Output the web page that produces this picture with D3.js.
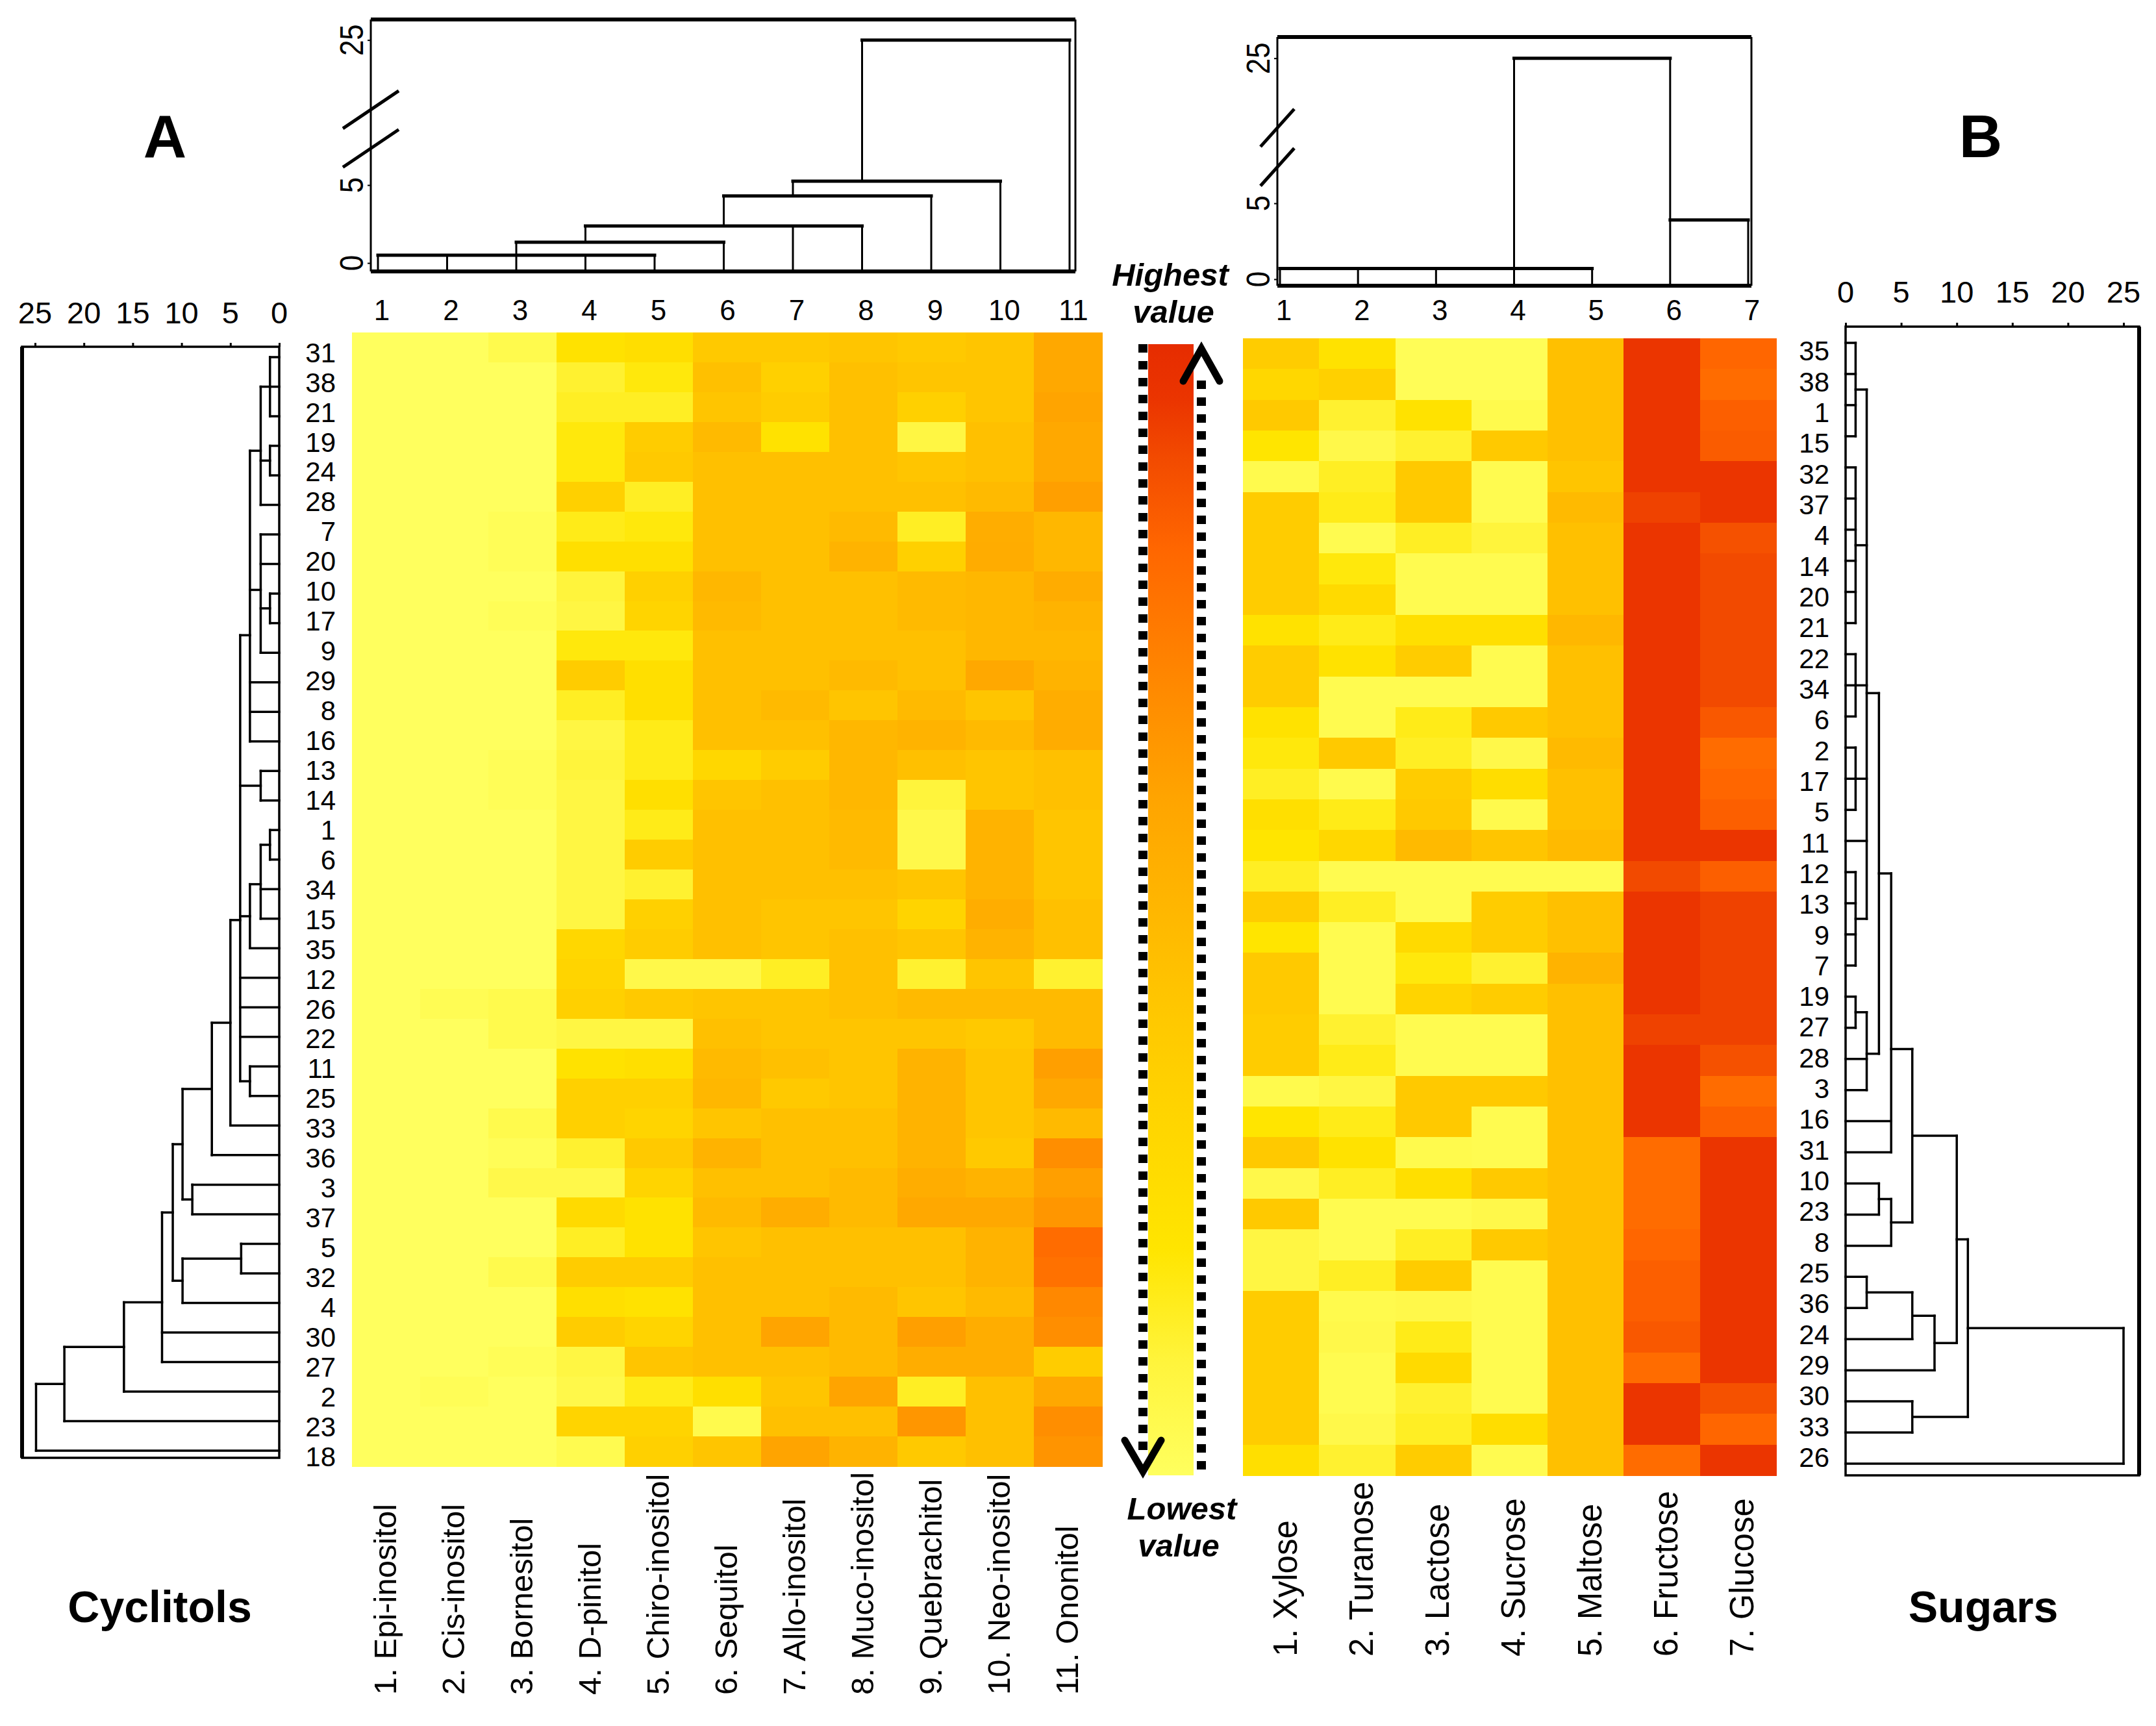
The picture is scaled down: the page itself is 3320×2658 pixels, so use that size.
<!DOCTYPE html>
<html><head><meta charset="utf-8">
<script src="https://cdn.jsdelivr.net/npm/d3@7/dist/d3.min.js"></script>
<style>
body{margin:0;background:#fff}
svg{display:block}
text{font-family:"Liberation Sans",Arial,Helvetica,sans-serif;fill:#000}
</style>
</head><body>
<svg id="chart" width="3320" height="2658"></svg>
<script>
// ---------------- DATA ----------------
const cycColumns = ["1. Epi-inositol","2. Cis-inositol","3. Bornesitol","4. D-pinitol","5. Chiro-inositol","6. Sequitol","7. Allo-inositol","8. Muco-inositol","9. Quebrachitol","10. Neo-inositol","11. Ononitol"];
const cycColTicks = ["1","2","3","4","5","6","7","8","9","10","11"];
const cycRows = [31,38,21,19,24,28,7,20,10,17,9,29,8,16,13,14,1,6,34,15,35,12,26,22,11,25,33,36,3,37,5,32,4,30,27,2,23,18];
// relative level 0 (lowest) .. 100 (highest), one array per sample row
const cycValues = [
 [0,0,5,22,25,40,40,42,40,42,58],
 [0,0,0,12,18,45,35,45,42,42,58],
 [0,0,0,14,14,42,38,45,35,42,60],
 [0,0,0,18,38,48,22,45,8,45,58],
 [0,0,0,18,40,45,45,45,42,45,58],
 [0,0,0,35,14,45,45,45,45,48,62],
 [0,0,2,16,18,45,45,48,14,55,50],
 [0,0,2,24,24,45,45,52,35,56,50],
 [0,0,0,10,35,50,45,45,48,50,56],
 [0,0,2,8,32,48,45,45,48,50,52],
 [0,0,0,18,18,45,45,45,45,50,50],
 [0,0,0,38,24,45,45,48,45,58,52],
 [0,0,0,14,24,45,48,42,48,42,55],
 [0,0,0,8,16,45,45,50,52,48,56],
 [0,0,2,10,16,30,38,50,45,42,45],
 [0,0,2,8,24,42,45,50,10,42,45],
 [0,0,0,8,16,45,45,48,6,52,42],
 [0,0,0,8,38,45,45,48,6,52,42],
 [0,0,0,8,12,45,45,45,42,52,42],
 [0,0,0,8,35,45,42,42,32,55,45],
 [0,0,0,30,38,45,42,45,42,52,45],
 [0,0,0,32,6,6,14,45,12,42,12],
 [0,3,5,35,40,42,42,45,48,48,48],
 [0,0,5,8,8,45,42,42,42,40,48],
 [0,0,0,22,24,48,45,42,52,42,62],
 [0,0,0,35,35,50,40,42,52,42,58],
 [0,0,5,35,32,42,45,45,52,42,48],
 [0,0,2,12,40,52,45,45,52,40,68],
 [0,0,6,6,32,45,45,48,55,52,62],
 [0,0,0,28,22,48,55,48,58,58,65],
 [0,0,0,14,22,42,45,45,45,52,80],
 [0,0,5,38,38,45,45,45,45,52,78],
 [0,0,0,24,22,45,45,48,42,48,70],
 [0,0,0,38,32,45,60,48,62,55,68],
 [0,0,2,8,42,45,45,48,55,55,38],
 [0,2,0,6,16,24,42,60,14,45,58],
 [0,0,0,32,32,5,45,45,65,45,68],
 [0,0,0,4,35,42,60,52,40,45,66]
];

const sugColumns = ["1. Xylose","2. Turanose","3. Lactose","4. Sucrose","5. Maltose","6. Fructose","7. Glucose"];
const sugColTicks = ["1","2","3","4","5","6","7"];
const sugRows = [35,38,1,15,32,37,4,14,20,21,22,34,6,2,17,5,11,12,13,9,7,19,27,28,3,16,31,10,23,8,25,36,24,29,30,33,26];
const sugValues = [
 [38,22,2,2,45,95,82],
 [30,35,2,2,45,95,80],
 [40,12,22,5,45,95,84],
 [20,6,12,40,45,95,85],
 [5,14,40,4,42,95,95],
 [38,16,40,4,48,92,95],
 [38,4,14,10,45,95,88],
 [38,18,4,4,45,95,90],
 [38,28,4,4,45,95,90],
 [22,16,24,24,50,95,90],
 [38,22,38,4,45,95,90],
 [38,4,4,4,45,95,90],
 [22,4,16,40,45,95,86],
 [18,40,14,6,48,95,80],
 [14,5,38,26,45,95,82],
 [24,16,40,5,45,95,84],
 [20,30,48,42,48,95,95],
 [14,4,4,4,4,90,84],
 [38,14,4,38,45,95,92],
 [20,4,28,38,45,95,92],
 [40,4,18,12,52,95,92],
 [40,4,32,38,45,95,92],
 [38,12,4,4,45,92,92],
 [38,16,4,4,45,95,88],
 [5,8,40,40,45,95,80],
 [20,16,40,4,45,95,84],
 [40,22,5,4,45,80,95],
 [6,14,24,40,45,80,95],
 [40,4,4,6,45,80,95],
 [8,4,14,40,45,82,95],
 [8,14,38,4,45,84,95],
 [38,5,6,4,45,84,95],
 [38,6,16,4,45,86,95],
 [38,4,28,4,45,80,95],
 [38,4,12,4,45,95,88],
 [38,6,14,26,45,95,82],
 [24,12,38,4,45,80,95]
];

// dendrograms: [height, ...children]; a head [height, anchorLeaf] fixes where the cluster is drawn
const cycColTree = [25, [5.25, [4.3, [2.375, [1.33, [0.5, 1,2,3,4,5], 6], 7, 8], 9], 10], 11];
const sugColTree = [25, [[0.7, 4], 1,2,3,4,5], [3.9, 6, 7]];
const cycRowTree =
 [24.9, [22.0, [15.9, [12.0, [10.9, [9.9, [6.9, [5.0,
   [4.0,
     [3.0, [1.9, [0.95, 31, 38, 21], [0.95, 19, 24], 28], [1.9, 7, 20, [0.95, 10, 17], 9], 29, 8, 16],
     [1.9, 13, 14],
     [3.0, [1.9, [0.95, 1, 6], 34, 15], 35],
     12, 26, 22,
     [3.0, 11, 25]],
   33], 36], [8.9, 3, 37]], [9.9, [3.9, 5, 32], 4]], 30, 27], 2], 23], 18];
const sugRowTree =
 [25, [11.0,
   [10.0,
     [6.0,
       [4.1, [3.0,
          [1.9, [0.9,35,38,1,15], [0.9,32,37,4,14,20,21], [0.9,22,34,6], [0.9,2,17,5], 11, [0.9,12,13,9,7]],
          [1.9, [0.9,19,27], 28, 3]], 16, 31],
       [4.1, [3.0, 10, 23], 8]],
     [8.0, [6.0, [1.9, 25, 36], 24], 29]],
   [6.0, 30, 33]], 26];

const distanceTicks = [0,5,10,15,20,25];
const brokenTicks = [0,5,25];
const legendTop = ["Highest","value"];
const legendBottom = ["Lowest","value"];
const panelLetters = ["A","B"];
const groupNames = ["Cyclitols","Sugars"];

// ---------------- STYLE / SCALES ----------------
const levelStops  = [0,10,20,30,40,45,52,60,68,75,82,90,95,100];
const levelColors = ["#FFFF5E","#FFF43C","#FFE500","#FFD700","#FFC900","#FFC000","#FFB300","#FFA400","#FF8E00","#FF7A00","#FF6600","#F24A00","#EB3500","#E62C00"];
const color = d3.scaleLinear().domain(levelStops).range(levelColors).clamp(true);

const svg = d3.select("#chart");
svg.append("rect").attr("width",3320).attr("height",2658).attr("fill","#fff");

function heatmap(rows, cols, values, xr, yr){
  const x = d3.scaleBand().domain(d3.range(cols.length)).range(xr);
  const y = d3.scaleBand().domain(d3.range(rows.length)).range(yr);
  const cells = [];
  values.forEach((r,i)=>r.forEach((v,j)=>cells.push({i,j,v})));
  svg.append("g").selectAll("rect").data(cells).join("rect")
    .attr("x",d=>x(d.j)).attr("y",d=>y(d.i))
    .attr("width",x.bandwidth()+0.6).attr("height",y.bandwidth()+0.6)
    .attr("fill",d=>color(d.v)).attr("shape-rendering","crispEdges");
  return {x,y};
}

function layoutTree(tree, order, roundFn){
  const segs = [];
  function rec(n){
    if(!Array.isArray(n)) return {pos: order.indexOf(n), h: null};
    let head = n[0], h, at = null;
    if(Array.isArray(head)){ h = head[0]; at = head[1]; } else h = head;
    const kids = n.slice(1).map(rec);
    const ps = kids.map(k=>k.pos);
    const pos = at!==null ? order.indexOf(at) : roundFn(d3.mean(ps));
    segs.push({join:true, h, p0:d3.min(ps), p1:d3.max(ps)});
    kids.forEach(k=>segs.push({join:false, p:k.pos, h0:k.h, h1:h}));
    return {pos, h};
  }
  rec(tree);
  return segs;
}

function drawTree(segs, leafScale, hScale, vertical, base, wJoin, wStem){
  const g = svg.append("g").attr("stroke","#000").attr("stroke-linecap","square");
  g.selectAll("line").data(segs).join("line")
    .each(function(s){
      const el = d3.select(this);
      let a,b;
      if(s.join){ a=[s.p0,s.h]; b=[s.p1,s.h]; }
      else { a=[s.p, s.h0===null?base:s.h0]; b=[s.p, s.h1]; }
      if(vertical){
        el.attr("x1",leafScale(a[0])).attr("y1",hScale(a[1])).attr("x2",leafScale(b[0])).attr("y2",hScale(b[1]));
        el.attr("stroke-width", s.join?wJoin:wStem);
      } else {
        el.attr("x1",hScale(a[1])).attr("y1",leafScale(a[0])).attr("x2",hScale(b[1])).attr("y2",leafScale(b[0]));
        el.attr("stroke-width", s.join?wStem:wJoin);
      }
    });
}

// ---------------- HEATMAPS ----------------
const hmA = heatmap(cycRows, cycColumns, cycValues, [542,1697], [512,2258]);
const hmB = heatmap(sugRows, sugColumns, sugValues, [1914,2735], [521,2272]);

// row labels
svg.append("g").selectAll("text").data(cycRows).join("text")
  .attr("x",517).attr("y",(d,i)=>hmA.y(i)+hmA.y.bandwidth()/2+8).attr("dy","0.35em")
  .attr("text-anchor","end").attr("font-size",42).text(d=>d);
svg.append("g").selectAll("text").data(sugRows).join("text")
  .attr("x",2817).attr("y",(d,i)=>hmB.y(i)+hmB.y.bandwidth()/2-4).attr("dy","0.35em")
  .attr("text-anchor","end").attr("font-size",42).text(d=>d);

// column labels (rotated)
svg.append("g").selectAll("text").data(cycColumns).join("text")
  .attr("transform",(d,i)=>`translate(${hmA.x(i)+hmA.x.bandwidth()/2-2},2610) rotate(-90)`)
  .attr("dy","0.35em").attr("text-anchor","start").attr("font-size",49).text(d=>d);
svg.append("g").selectAll("text").data(sugColumns).join("text")
  .attr("transform",(d,i)=>`translate(${hmB.x(i)+hmB.x.bandwidth()/2+6},2551) rotate(-90)`)
  .attr("dy","0.35em").attr("text-anchor","start").attr("font-size",51).text(d=>d);

// ---------------- TOP DENDROGRAMS ----------------
function topDendro(tree, ticks, box, leafRange, hDomain, hRange, breaks, slash){
  const leaf = d3.scaleLinear().domain([0,ticks.length-1]).range(leafRange);
  const h = d3.scaleLinear().domain(hDomain).range(hRange);
  const order = ticks.map(Number);
  drawTree(layoutTree(tree, order, Math.floor), leaf, h, true, hDomain[0], 5, 3);
  const f = svg.append("g").attr("stroke","#000").attr("fill","none");
  f.append("line").attr("x1",box[0]).attr("x2",box[1]).attr("y1",h(hDomain[3])).attr("y2",h(hDomain[3])).attr("stroke-width",6);
  f.append("line").attr("x1",box[0]).attr("x2",box[1]).attr("y1",h(hDomain[0])).attr("y2",h(hDomain[0])).attr("stroke-width",6);
  f.append("line").attr("x1",box[0]).attr("x2",box[0]).attr("y1",h(hDomain[3])).attr("y2",h(hDomain[0])).attr("stroke-width",3);
  f.append("line").attr("x1",box[1]).attr("x2",box[1]).attr("y1",h(hDomain[3])).attr("y2",h(hDomain[0])).attr("stroke-width",3);
  const ax = svg.append("g").attr("transform",`translate(${box[0]},0)`)
    .call(d3.axisLeft(h).tickValues(brokenTicks).tickSize(5).tickFormat(""));
  ax.select(".domain").remove();
  ax.selectAll("line").attr("stroke","#000").attr("stroke-width",2);
  svg.append("g").selectAll("text").data(brokenTicks).join("text")
    .attr("transform",d=>`translate(${box[0]-30},${h(d)}) rotate(-90) scale(1,1.15)`)
    .attr("text-anchor","middle").attr("dy","0.35em").attr("font-size",44).text(d=>d);
  svg.append("g").selectAll("line").data(breaks).join("line")
    .attr("x1",box[0]-slash[0]).attr("x2",box[0]+slash[0])
    .attr("y1",d=>h(d)+slash[1]).attr("y2",d=>h(d)-slash[1])
    .attr("stroke","#000").attr("stroke-width",5);
  svg.append("g").selectAll("text").data(ticks).join("text")
    .attr("x",(d,i)=>leaf(i)+6).attr("y",493).attr("text-anchor","middle")
    .attr("font-size",44).text(d=>d);
}
topDendro(cycColTree, cycColTicks, [571,1656], [582,1647], [-0.54,6.5,24,26.3], [418,249,86,30], [8.7,15.1], [43,29]);
topDendro(sugColTree, sugColTicks, [1967,2697], [1971,2692], [-0.43,6.5,24,26.4], [440,278,113,57], [8.7,15.1], [26,29]);

// ---------------- SIDE DENDROGRAMS ----------------
function sideDendro(tree, rows, leafRange, hRange, box, axisY, labelY){
  const leaf = d3.scaleLinear().domain([0,rows.length-1]).range(leafRange);
  const h = d3.scaleLinear().domain([0,25]).range(hRange);
  drawTree(layoutTree(tree, rows, v=>v), leaf, h, false, 0, 3.5, 3.5);
  const f = svg.append("g").attr("stroke","#000").attr("fill","none");
  f.append("rect").attr("x",box[0]).attr("y",axisY).attr("width",box[1]-box[0]).attr("height",box[2]-axisY).attr("stroke-width",3.5);
  const outerX = hRange[0] < hRange[1] ? box[1] : box[0];
  f.append("line").attr("x1",outerX).attr("x2",outerX).attr("y1",axisY).attr("y2",box[2]).attr("stroke-width",6);
  const ax = svg.append("g").attr("transform",`translate(0,${axisY})`)
    .call(d3.axisTop(h).tickValues(distanceTicks).tickSize(6).tickSizeOuter(0).tickFormat(""));
  ax.select(".domain").remove();
  ax.selectAll("line").attr("stroke","#000").attr("stroke-width",3);
  svg.append("g").selectAll("text").data(distanceTicks).join("text")
    .attr("x",d=>h(d)).attr("y",labelY).attr("text-anchor","middle").attr("font-size",47).text(d=>d);
}
sideDendro(cycRowTree, cycRows, [550,2234], [430,54], [34,430,2245], 534, 498);
sideDendro(sugRowTree, sugRows, [528,2254], [2842,3270], [2842,3294,2272], 503, 466);

// ---------------- COLOUR KEY ----------------
const defs = svg.append("defs");
const grad = defs.append("linearGradient").attr("id","key").attr("x1",0).attr("y1",1).attr("x2",0).attr("y2",0);
grad.selectAll("stop").data(levelStops).join("stop")
  .attr("offset",d=>d/100).attr("stop-color",d=>color(d));
svg.append("rect").attr("x",1768).attr("y",530).attr("width",70).attr("height",1742).attr("fill","url(#key)");
svg.append("line").attr("x1",1760).attr("x2",1760).attr("y1",530).attr("y2",2240)
  .attr("stroke","#000").attr("stroke-width",14).attr("stroke-dasharray","13,13");
svg.append("line").attr("x1",1850).attr("x2",1850).attr("y1",586).attr("y2",2272)
  .attr("stroke","#000").attr("stroke-width",14).attr("stroke-dasharray","13,13");
svg.append("polyline").attr("points","1822,587 1850,537 1878,587")
  .attr("fill","none").attr("stroke","#000").attr("stroke-width",11).attr("stroke-linecap","round");
svg.append("polyline").attr("points","1732,2218 1760,2266 1788,2218")
  .attr("fill","none").attr("stroke","#000").attr("stroke-width",11).attr("stroke-linecap","round");
const legTxt = svg.append("g").attr("font-weight","bold").attr("font-style","italic").attr("font-size",49).attr("text-anchor","middle");
legTxt.append("text").attr("x",1802).attr("y",440).text(legendTop[0]);
legTxt.append("text").attr("x",1807).attr("y",497).text(legendTop[1]);
legTxt.append("text").attr("x",1820).attr("y",2340).text(legendBottom[0]);
legTxt.append("text").attr("x",1815).attr("y",2397).text(legendBottom[1]);

// ---------------- PANEL TITLES ----------------
svg.append("g").attr("font-weight","bold").attr("font-size",92).attr("text-anchor","middle")
  .selectAll("text").data(panelLetters).join("text")
  .attr("x",(d,i)=>[254,3050][i]).attr("y",242).text(d=>d);
svg.append("g").attr("font-weight","bold").attr("font-size",68).attr("text-anchor","middle")
  .selectAll("text").data(groupNames).join("text")
  .attr("x",(d,i)=>[246,3054][i]).attr("y",2498).text(d=>d);
</script>
</body></html>
